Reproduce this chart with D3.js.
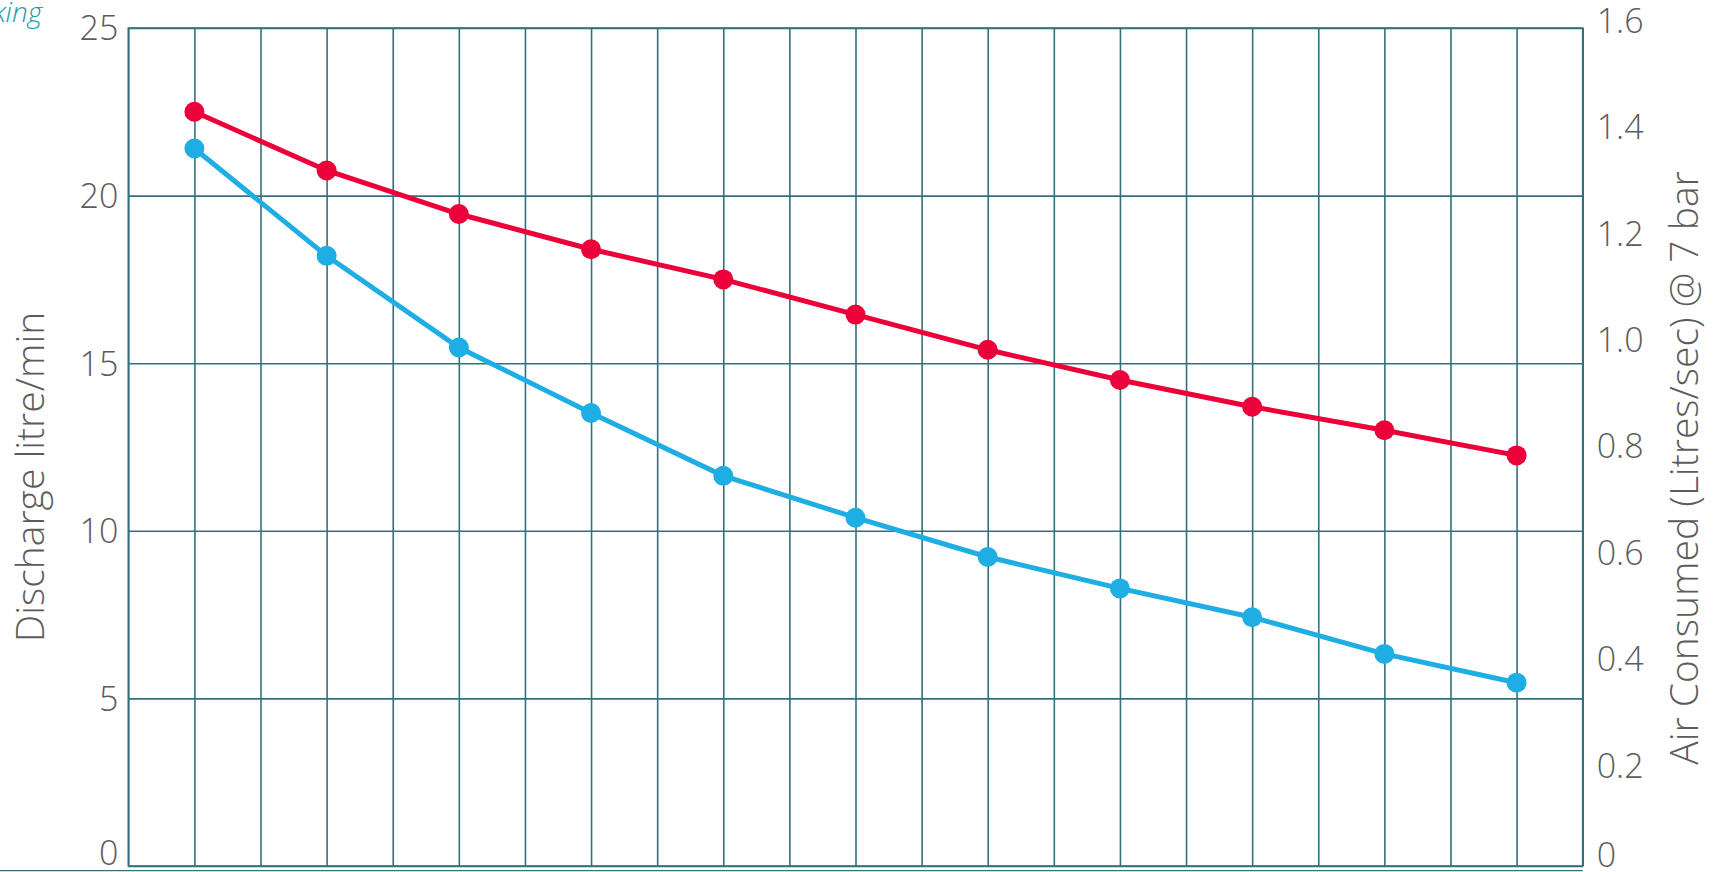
<!DOCTYPE html>
<html lang="en">
  <head>
    <meta charset="UTF-8">
    <title>Discharge and Air Consumed</title>
    <script src="https://d3js.org/d3.v7.min.js"></script>
    <style>
      body { margin: 0; background: #fff; }
      svg text { font-family: "Open Sans", "Noto Sans", sans-serif; }
    </style>
  </head>
  <body>
    <script>
      // column positions of the plotted points (22 grid columns, no x labels)
      const columns = [1, 3, 5, 7, 9, 11, 13, 15, 17, 19, 21];
      // red series, left axis (litre/min)
      const discharge = [22.5, 20.75, 19.45, 18.4, 17.5, 16.45, 15.4, 14.5, 13.7, 13.0, 12.25];
      // blue series, right axis (litres/sec)
      const airConsumed = [1.37, 1.165, 0.99, 0.865, 0.745, 0.665, 0.59, 0.53, 0.475, 0.405, 0.35];

      const leftTicks = [0, 5, 10, 15, 20, 25];
      const rightTicks = [0, 0.2, 0.4, 0.6, 0.8, 1.0, 1.2, 1.4, 1.6];
      const rightLabels = ["0", "0.2", "0.4", "0.6", "0.8", "1.0", "1.2", "1.4", "1.6"];

      const w = 1726;
      const h = 872;
      const plotL = 128.3, plotR = 1582.7, plotT = 28, plotB = 866;

      const svg = d3.select("body")
        .append("svg")
        .attr("width", w)
        .attr("height", h);

      const x = d3.scaleLinear().domain([0, 22]).range([plotL, plotR]);
      const yL = d3.scaleLinear().domain([0, 25]).range([plotB, plotT]);
      const yR = d3.scaleLinear().domain([0, 1.6]).range([plotB, plotT]);
      // right labels were laid out slightly off the ticks in the original
      const yRLabel = d3.scaleLinear().domain([0, 1.6]).range([872, 21]);

      const gridColor = "#33707c";
      const labelColor = "#5c5c5c";

      // vertical grid
      svg.append("g")
        .attr("transform", `translate(0,${plotB})`)
        .call(d3.axisBottom(x).tickValues(d3.range(0, 23)).tickSize(-(plotB - plotT)).tickFormat(""))
        .call(g => g.select(".domain").remove())
        .selectAll("line")
        .attr("stroke", gridColor)
        .attr("stroke-width", 1.6);

      // horizontal grid + left labels
      const gl = svg.append("g")
        .attr("transform", `translate(${plotL},0)`)
        .call(d3.axisLeft(yL).tickValues(leftTicks).tickSize(-(plotR - plotL)).tickPadding(10));
      gl.select(".domain").remove();
      gl.selectAll("line").attr("stroke", gridColor).attr("stroke-width", 1.6);
      gl.selectAll("text")
        .attr("fill", labelColor)
        .style("font-size", "34px")
        .style("font-weight", 300)
        .attr("dy", d => d === 0 ? "-0.05em" : "0.35em");

      // plot border
      svg.append("rect")
        .attr("x", plotL).attr("y", plotT)
        .attr("width", plotR - plotL).attr("height", plotB - plotT)
        .attr("fill", "none")
        .attr("stroke", gridColor)
        .attr("stroke-width", 1.6);

      // bottom rule across the page
      svg.append("line")
        .attr("x1", 0).attr("x2", plotR)
        .attr("y1", 870.7).attr("y2", 870.7)
        .attr("stroke", gridColor)
        .attr("stroke-width", 1.2);

      // right labels
      svg.append("g")
        .selectAll("text")
        .data(rightTicks)
        .enter()
        .append("text")
        .attr("x", plotR + 14)
        .attr("y", d => Math.min(yRLabel(d), 855))
        .attr("dy", "0.35em")
        .attr("fill", labelColor)
        .style("font-size", "34px")
        .style("font-weight", 300)
        .text((d, i) => rightLabels[i]);

      // axis titles
      svg.append("text")
        .attr("transform", "translate(44,477) rotate(-90)")
        .attr("text-anchor", "middle")
        .attr("fill", labelColor)
        .style("font-size", "39px")
        .style("font-weight", 300)
        .text("Discharge litre/min");

      svg.append("text")
        .attr("transform", "translate(1698,468) rotate(-90)")
        .attr("text-anchor", "middle")
        .attr("fill", labelColor)
        .style("font-size", "39px")
        .style("font-weight", 300)
        .text("Air Consumed (Litres/sec) @ 7 bar");

      // cut-off caption at the top left
      svg.append("text")
        .attr("x", 42).attr("y", 22)
        .attr("text-anchor", "end")
        .attr("fill", "#1a9ea6")
        .style("font-size", "28px")
        .style("font-style", "italic")
        .style("font-weight", 300)
        .text("Working");

      // series
      const series = [
        { values: airConsumed, y: yR, color: "#1eaee4" },
        { values: discharge, y: yL, color: "#ec0039" }
      ];

      series.forEach(s => {
        const line = d3.line()
          .x((d, i) => x(columns[i]))
          .y(d => s.y(d));

        svg.append("path")
          .datum(s.values)
          .attr("d", line)
          .attr("fill", "none")
          .attr("stroke", s.color)
          .attr("stroke-width", 5);

        svg.append("g")
          .selectAll("circle")
          .data(s.values)
          .enter()
          .append("circle")
          .attr("cx", (d, i) => x(columns[i]))
          .attr("cy", d => s.y(d))
          .attr("r", 10)
          .attr("fill", s.color);
      });
    </script>
  </body>
</html>
